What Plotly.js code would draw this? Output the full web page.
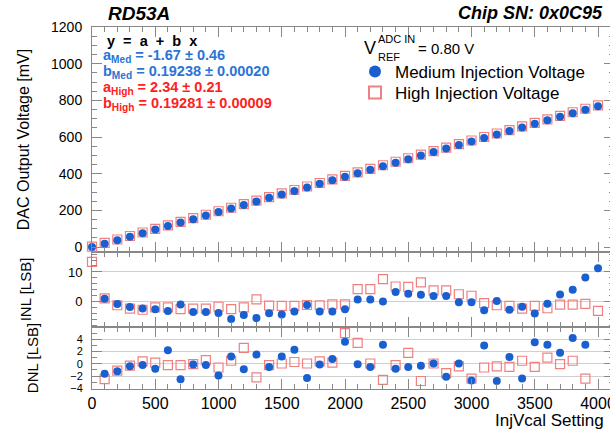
<!DOCTYPE html>
<html>
<head>
<meta charset="utf-8">
<script src="https://cdn.plot.ly/plotly-3.0.1.min.js"></script>
<style>html,body{margin:0;padding:0;overflow:hidden;background:#fff;}#chart{width:614px;height:432px;}</style>
</head>
<body>
<div id="chart"></div>
<script>
// ---- data ----
const injvcal = [0,100,200,300,400,500,600,700,800,900,1000,1100,1200,1300,1400,1500,1600,1700,1800,1900,2000,2100,2200,2300,2400,2500,2600,2700,2800,2900,3000,3100,3200,3300,3400,3500,3600,3700,3800,3900,4000];
const voltMed = [0,18,37,56,75,95,114,133,152,172,191,210,229,248,268,287,306,325,345,364,383,402,422,441,460,479,499,518,537,556,575,595,614,633,652,672,691,710,729,749,768];
const voltHigh = [2,22,41,60,79,99,118,137,157,176,195,214,234,253,272,292,311,330,349,369,388,407,426,446,465,484,504,523,542,561,581,600,619,638,658,677,696,715,735,754,773];
const inlMed = [null,1.0,-0.8,-1.8,-2.3,-2.5,-3.1,-0.9,-3.5,-3.5,-3.8,-5.8,-4.5,-5.5,-3.9,-4.3,-3.3,-1.1,-3.3,-3.3,-2.5,0.7,0.7,0.1,3.3,2.7,2.3,1.9,1.9,-0.2,-0.2,-2.9,0.2,-2.7,-1.7,-4.0,-0.7,2.4,4.0,8.1,11.2];
const inlHigh = [13.4,1.1,-1.2,-2.3,-2.7,-1.9,-1.9,-2.5,-2.3,-2.3,-1.7,-2.5,-1.9,0.8,-1.3,-1.4,-1.4,-1.1,-1.2,-0.9,-0.9,4.2,4.2,7.6,5.1,5.0,6.5,3.8,3.8,2.5,2.0,-0.5,-1.2,-1.4,-2.3,-1.4,-2.2,-1.0,-1.0,-0.7,-3.1];
const dnlX = [100,200,300,400,500,600,700,800,900,1000,1100,1200,1300,1400,1500,1600,1700,1800,1900,2000,2100,2200,2300,2400,2500,2600,2700,2800,2900,3000,3100,3200,3300,3400,3500,3600,3700,3800,3900];
const dnlMed = [-1.6,-1.2,-0.4,-0.2,-0.8,2.2,-2.5,-0.1,-0.2,-1.9,1.2,-0.9,1.5,-0.5,1.2,2.3,-2.3,-0.1,0.8,3.6,-0.05,-0.5,3.1,-0.8,-0.5,-0.3,0.05,-2.1,0.05,-2.7,3.0,-2.8,1.1,-2.4,3.5,3.1,1.8,4.2,3.1];
const dnlHigh = [-2.5,-1.1,-0.3,0.4,0.2,-0.2,-0.2,-0.05,0.6,-0.6,0.5,2.6,-2.2,-0.2,0.05,0.3,0.05,0.4,0.2,5.0,3.4,0.05,-2.6,-0.2,1.8,-2.8,0.05,-1.5,-0.4,-2.4,-0.6,-0.4,-0.5,0.5,-0.5,1.0,-0.05,0.5,-2.4];
const seriesNames = ["Medium Injection Voltage","High Injection Voltage"];
const fitLines = ["y&nbsp;&nbsp;=&nbsp;&nbsp;a&nbsp;&nbsp;+&nbsp;&nbsp;b&nbsp;&nbsp;x","a<sub>Med</sub> = -1.67 ± 0.46","b<sub>Med</sub> = 0.19238 ± 0.00020","a<sub>High</sub> = 2.34 ± 0.21","b<sub>High</sub> = 0.19281 ± 0.00009"];
const dnlTicks = [-4,-2,0,2,4];

// ---- style ----
const FONT = "Liberation Sans, Arial, sans-serif";
const NARROW = "Liberation Sans Narrow, Liberation Sans, Arial, sans-serif";
const BLUE = "#1a5fcf";
const RED = "#f08080";
const fitColors = ["#000000","#2a74d6","#2a74d6","#ff2020","#ff2020"];
const W = 614, H = 432, L = 92;
const px = x => (x - L) / (W - L);
const py = y => 1 - y / H;

const medMarker = {symbol:"circle", size:8, color:BLUE};
const highMarker = {symbol:"square-open", size:9, color:RED, line:{width:1.2, color:RED}};

const traces = [
  {x:injvcal, y:voltHigh, xaxis:"x3", yaxis:"y3", type:"scatter", mode:"markers", name:seriesNames[1], marker:highMarker, cliponaxis:false, legend:"legend2"},
  {x:injvcal, y:voltMed, xaxis:"x3", yaxis:"y3", type:"scatter", mode:"markers", name:seriesNames[0], marker:medMarker, cliponaxis:false, legend:"legend"},
  {x:injvcal, y:inlHigh, xaxis:"x2", yaxis:"y2", type:"scatter", mode:"markers", marker:highMarker, showlegend:false, cliponaxis:false},
  {x:injvcal, y:inlMed, xaxis:"x2", yaxis:"y2", type:"scatter", mode:"markers", marker:medMarker, showlegend:false, cliponaxis:false},
  {x:dnlX, y:dnlHigh, xaxis:"x", yaxis:"y", type:"scatter", mode:"markers", marker:highMarker, showlegend:false, cliponaxis:false},
  {x:dnlX, y:dnlMed, xaxis:"x", yaxis:"y", type:"scatter", mode:"markers", marker:medMarker, showlegend:false, cliponaxis:false}
];

const AX = "#888";
const xRange = [0, (W - L) / 0.1265];
function xa(showLabels, anchor){
  return {range:xRange, anchor:anchor, domain:[0,1], showgrid:false, zeroline:false,
    showline:true, linecolor:AX, linewidth:1, mirror:"ticks",
    ticks:"inside", ticklen:10, tickcolor:AX, tickwidth:1, dtick:500, tick0:0,
    minor:{dtick:100, ticks:"inside", ticklen:5, tickcolor:AX, showgrid:false},
    ticklabeloverflow:"allow",
    showticklabels:showLabels, tickfont:{family:FONT, size:16, color:"#000"}};
}
function ya(domain, range, dtick, minorDtick, fontSize, grid, title, titleSize, standoff, anchor){
  return {domain:domain, range:range, anchor:anchor, dtick:dtick, tick0:0,
    showline:true, linecolor:AX, linewidth:1, mirror:"ticks", zeroline:false,
    showgrid:grid, gridcolor:"#d0d0d0", gridwidth:1,
    ticks:"inside", ticklen:10, tickcolor:AX, tickwidth:1,
    minor:{dtick:minorDtick, ticks:"inside", ticklen:5, tickcolor:AX, showgrid:false},
    tickfont:{family:FONT, size:fontSize, color:"#000"}, ticklabelstandoff:6,
    title:{text:title, font:{family:FONT, size:titleSize, color:"#000"}, standoff:standoff}};
}

const dnlAxis = ya([py(389), py(327)], [-4.1, 6.0], 2, 1, 11, true, "DNL [LSB]", 15, 28, "x");
dnlAxis.tickmode = "array";
dnlAxis.tickvals = dnlTicks;
dnlAxis.ticktext = dnlTicks.map(v => v < 0 ? "\u2212" + Math.abs(v) : String(v));

const legendBase = {xanchor:"left", yanchor:"middle", bgcolor:"rgba(0,0,0,0)", font:{family:FONT, size:17, color:"#000"}, itemsizing:"constant", borderwidth:0};

const layout = {
  width:W, height:H, margin:{l:L, r:0, t:0, b:0},
  paper_bgcolor:"#fff", plot_bgcolor:"#fff",
  font:{family:FONT, color:"#000"},
  title:{text:"<b><i>RD53A</i></b>", x:px(108), xref:"paper", xanchor:"left", y:py(13), yref:"container", yanchor:"middle", font:{family:FONT, size:19, color:"#000"}},
  xaxis: xa(true, "y"),
  xaxis2: xa(false, "y2"),
  xaxis3: xa(false, "y3"),
  yaxis: dnlAxis,
  yaxis2: ya([py(327), py(252)], [-8.5, 16.7], 10, 2, 13, true, "INL [LSB]", 15, 32, "x2"),
  yaxis3: ya([py(252), py(27)], [-27.3, 1200], 200, 50, 14, false, "DAC Output Voltage [mV]", 16, 17, "x3"),
  showlegend:true,
  legend: Object.assign({x:px(355), y:py(72)}, legendBase),
  legend2: Object.assign({x:px(355), y:py(93)}, legendBase),
  annotations:[
    {text:"<b><i>Chip SN: 0x0C95</i></b>", xref:"paper", yref:"paper", x:px(605), y:py(13), xanchor:"right", yanchor:"middle", showarrow:false, font:{family:FONT, size:18, color:"#000"}},
    {text:"InjVcal Setting", xref:"paper", yref:"paper", x:px(606), y:py(420), xanchor:"right", yanchor:"middle", showarrow:false, font:{family:FONT, size:17, color:"#000"}},
    {text:"V", xref:"paper", yref:"paper", x:px(362), y:py(48), xanchor:"left", yanchor:"middle", showarrow:false, font:{family:FONT, size:18, color:"#000"}},
    {text:"ADC IN", xref:"paper", yref:"paper", x:px(376), y:py(39), xanchor:"left", yanchor:"middle", showarrow:false, font:{family:FONT, size:11, color:"#000"}},
    {text:"REF", xref:"paper", yref:"paper", x:px(376), y:py(57), xanchor:"left", yanchor:"middle", showarrow:false, font:{family:FONT, size:11, color:"#000"}},
    {text:"= 0.80 V", xref:"paper", yref:"paper", x:px(416), y:py(48), xanchor:"left", yanchor:"middle", showarrow:false, font:{family:FONT, size:15, color:"#000"}}
  ]
};
const fitY = [41, 56, 72, 88, 104];
const fitX = [106, 102, 102, 102, 102];
fitLines.forEach((t, i) => {
  layout.annotations.push({text:"<b>" + t + "</b>", xref:"paper", yref:"paper", x:px(fitX[i]), y:py(fitY[i]), xanchor:"left", yanchor:"middle", showarrow:false, borderpad:0, font:{family:NARROW, size:14.5, color:fitColors[i]}});
});

Plotly.newPlot("chart", traces, layout, {staticPlot:true, displayModeBar:false});
</script>
</body>
</html>
